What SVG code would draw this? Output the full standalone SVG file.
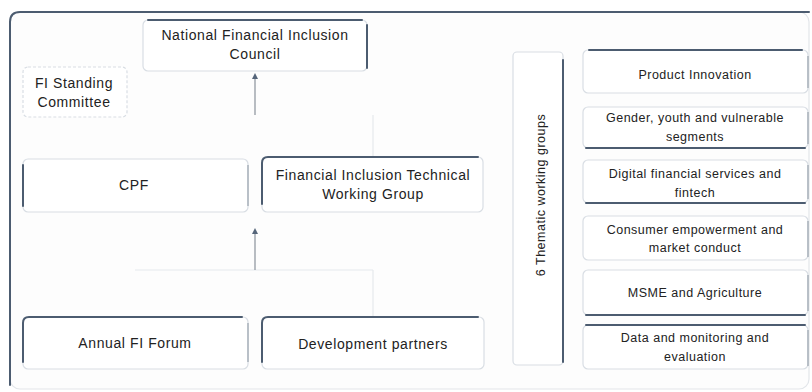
<svg xmlns="http://www.w3.org/2000/svg" width="812" height="392" viewBox="0 0 812 392">
<style>
  .box { fill: #ffffff; stroke: #d9dee4; stroke-width: 1.2; }
  .edge { fill: none; stroke: #4c5c70; stroke-width: 2; stroke-linecap: round; }
  .gedge { fill: none; stroke: #9aa3ad; stroke-width: 1.2; }
  .t { font-family: "Liberation Sans", Arial, sans-serif; font-size: 14px; letter-spacing: 0.6px; fill: #222222; text-anchor: middle; }
  .s { font-family: "Liberation Sans", Arial, sans-serif; font-size: 12.5px; letter-spacing: 0.5px; fill: #222222; text-anchor: middle; }
  .conn { fill: none; stroke: #8a929b; stroke-width: 1.2; }
  .faint { fill: none; stroke: #e6e9ed; stroke-width: 1.2; }
</style>
<defs>
  <marker id="arr" viewBox="0 0 10 10" refX="5" refY="5" markerWidth="5" markerHeight="5" orient="auto-start-reverse">
    <path d="M0,0 L10,5 L0,10 z" fill="#55657a"/>
  </marker>
</defs>
<rect x="0" y="0" width="812" height="392" fill="#ffffff"/>
<g id="frame">
  <rect x="10" y="12" width="799" height="377" rx="10" fill="#fdfdfd" stroke="#e3e6ea" stroke-width="1.2"/>
  <path d="M10,385 L10,22 Q10,12 20,12 L809,12" class="edge"/>
</g>
<g id="connectors">
  <path d="M373,157 L373,115" class="faint"/>
  <line x1="255" y1="115" x2="255" y2="76" class="conn" marker-end="url(#arr)"/>
  <path d="M135,270 L373,270" class="faint"/>
  <path d="M373,270 L373,317" class="faint"/>
  <line x1="255" y1="270" x2="255" y2="231" class="conn" marker-end="url(#arr)"/>
</g>
<g id="nfic">
  <rect x="143" y="20" width="224" height="51" rx="5" class="box"/>
  <path d="M148,20 L362,20 M367,25 L367,68" class="edge"/>
  <text x="255" y="40" class="t">National Financial Inclusion</text>
  <text x="255" y="59" class="t">Council</text>
</g>
<g id="fisc">
  <rect x="23" y="67" width="104" height="50" rx="5" class="box" stroke-dasharray="3 2"/>
  <text x="74" y="88" class="t">FI Standing</text>
  <text x="74" y="107" class="t">Committee</text>
</g>
<g id="cpf">
  <rect x="23" y="159" width="225" height="53" rx="5" class="box"/>
  <path d="M23,165 L23,206" class="edge"/>
  <path d="M248,165 L248,206" class="gedge"/>
  <text x="134" y="190" class="t">CPF</text>
</g>
<g id="fitwg">
  <rect x="262" y="157" width="221" height="55" rx="5" class="box"/>
  <path d="M262,204 L262,163 Q262,157 268,157 L478,157" class="edge"/>
  <text x="373" y="180" class="t">Financial Inclusion Technical</text>
  <text x="373" y="199" class="t">Working Group</text>
</g>
<g id="forum">
  <rect x="23" y="317" width="225" height="52" rx="5" class="box"/>
  <path d="M23,362 L23,323 Q23,317 29,317 L242,317" class="edge"/>
  <path d="M248,323 L248,362" class="gedge"/>
  <text x="135" y="348" class="t">Annual FI Forum</text>
</g>
<g id="devpartners">
  <rect x="262" y="317" width="222" height="52" rx="5" class="box"/>
  <path d="M262,362 L262,323 Q262,317 268,317 L478,317" class="edge"/>
  <text x="373" y="349" class="t">Development partners</text>
</g>
<g id="thematic">
  <rect x="513" y="52" width="50" height="313" rx="4" class="box"/>
  <path d="M563,60 L563,362" class="edge"/>
  <text x="0" y="0" class="s" transform="translate(541,195) rotate(-90)" dy="4">6 Thematic working groups</text>
</g>
<g id="product">
  <rect x="583" y="50" width="225" height="43" rx="5" class="box"/>
  <path d="M589,50 L802,50" class="edge"/>
  <path d="M808,56 L808,88" class="gedge"/>
  <text x="695" y="79" class="s">Product Innovation</text>
</g>
<g id="gender">
  <rect x="583" y="107" width="225" height="41" rx="5" class="box"/>
  <path d="M586,148 L805,148" class="edge"/>
  <path d="M808,112 L808,144" class="gedge"/>
  <text x="695" y="122" class="s">Gender, youth and vulnerable</text>
  <text x="695" y="141" class="s">segments</text>
</g>
<g id="digital">
  <rect x="583" y="160" width="225" height="43" rx="5" class="box"/>
  <path d="M586,203 L805,203" class="edge"/>
  <path d="M808,165 L808,199" class="gedge"/>
  <text x="695" y="178" class="s">Digital financial services and</text>
  <text x="695" y="197" class="s">fintech</text>
</g>
<g id="consumer">
  <rect x="583" y="216" width="225" height="44" rx="5" class="box"/>
  <path d="M808,221 L808,257" class="gedge"/>
  <text x="695" y="234" class="s">Consumer empowerment and</text>
  <text x="695" y="252" class="s">market conduct</text>
</g>
<g id="msme">
  <rect x="583" y="270" width="225" height="45" rx="5" class="box"/>
  <path d="M586,315 L805,315" class="edge"/>
  <path d="M808,275 L808,311" class="gedge"/>
  <text x="695" y="297" class="s">MSME and Agriculture</text>
</g>
<g id="data">
  <rect x="583" y="325" width="225" height="44" rx="5" class="box"/>
  <path d="M586,325 L805,325" class="edge"/>
  <path d="M808,330 L808,366" class="gedge"/>
  <text x="695" y="342" class="s">Data and monitoring and</text>
  <text x="695" y="361" class="s">evaluation</text>
</g>
</svg>
